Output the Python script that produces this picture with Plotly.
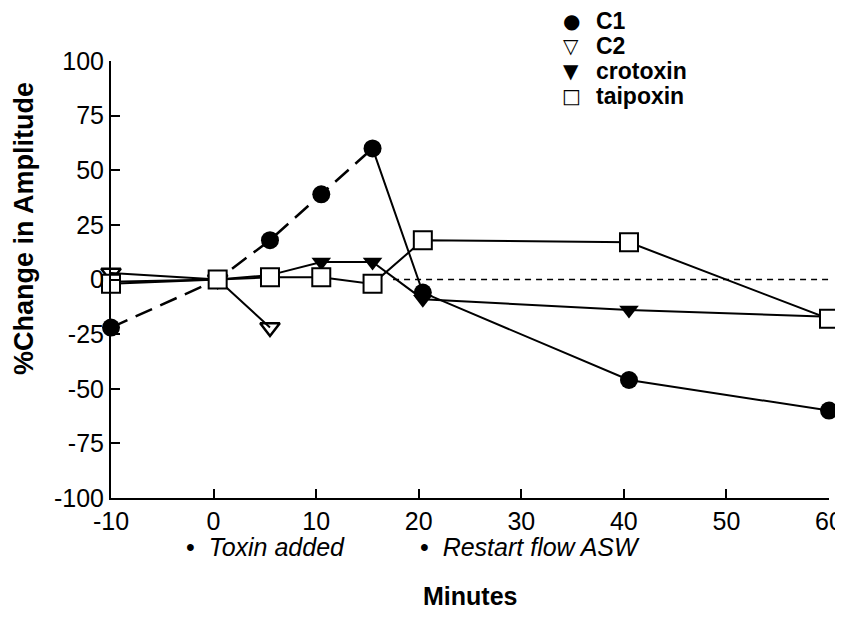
import plotly.graph_objects as go

# ---- data ----
t_c1 = [-10, 0.4, 5.5, 10.5, 15.5, 20.4, 40.5, 60]
c1 = [-22, 0, 18, 39, 60, -6, -46, -60]
split_c1 = 5  # dashed up to 15.5 min, solid afterwards

t_c2 = [-10, 0.4, 5.5]
c2 = [3, 0, -22]

t_cro = [-10, 0.4, 5.5, 10.5, 15.5, 20.4, 40.5, 60]
cro = [-1, 0, 2, 8, 8, -9, -14, -17]

t_tai = [-10, 0.4, 5.5, 10.5, 15.5, 20.4, 40.5, 60]
tai = [-2, 0, 1, 1, -2, 18, 17, -18]

ref_x = [17.5, 60]
ref_y = [0, 0]

x_ticks = [-10, 0, 10, 20, 30, 40, 50, 60]
y_ticks = [-100, -75, -50, -25, 0, 25, 50, 75, 100]

legend_names = ["C1", "C2", "crotoxin", "taipoxin"]
legend_syms = ["\u25CF", "\u25BD", "\u25BC", "\u25A1"]

FONT = "Liberation Sans, Arial, Helvetica, sans-serif"
BLACK = "#000000"

# plot area in screen pixels (page has an 8px body offset)
PX0, PX1, PY0, PY1 = 111, 829, 61, 498
OFF = 8
W, H = 843 - OFF, 612


def px(xs):
    return (xs - PX0) / (PX1 - PX0)


def py(ys):
    return (PY1 - ys) / (PY1 - PY0)


fig = go.Figure()

# reference dashed line at 0
fig.add_trace(go.Scatter(x=ref_x, y=ref_y, mode="lines", showlegend=False,
                         line=dict(color=BLACK, width=1.5, dash="6px,5px"),
                         hoverinfo="skip"))

# line segments
fig.add_trace(go.Scatter(x=t_c1[:split_c1], y=c1[:split_c1], mode="lines", showlegend=False,
                         line=dict(color=BLACK, width=2.5, dash="18px,9px")))
fig.add_trace(go.Scatter(x=t_c1[split_c1 - 1:], y=c1[split_c1 - 1:], mode="lines", showlegend=False,
                         line=dict(color=BLACK, width=2)))
fig.add_trace(go.Scatter(x=t_c2, y=c2, mode="lines", showlegend=False,
                         line=dict(color=BLACK, width=2)))
fig.add_trace(go.Scatter(x=t_cro, y=cro, mode="lines", showlegend=False,
                         line=dict(color=BLACK, width=2)))
fig.add_trace(go.Scatter(x=t_tai, y=tai, mode="lines", showlegend=False,
                         line=dict(color=BLACK, width=2)))

# markers
fig.add_trace(go.Scatter(x=t_c1, y=c1, mode="markers", name="C1", cliponaxis=False,
                         showlegend=False,
                         marker=dict(symbol="circle", size=18, color=BLACK)))
fig.add_trace(go.Scatter(x=t_c2, y=c2, mode="markers", name="C2", cliponaxis=False,
                         showlegend=False,
                         marker=dict(symbol="triangle-down-open", size=17, color=BLACK,
                                     line=dict(width=2.5))))
fig.add_trace(go.Scatter(x=t_cro, y=cro, mode="markers", name="crotoxin", cliponaxis=False,
                         showlegend=False,
                         marker=dict(symbol="triangle-down", size=17, color=BLACK)))
fig.add_trace(go.Scatter(x=t_tai, y=tai, mode="markers", name="taipoxin", cliponaxis=False,
                         showlegend=False,
                         marker=dict(symbol="square", size=18, color="white",
                                     line=dict(color=BLACK, width=2))))

annotations = [
    dict(text="\u2022  <i>Toxin added</i>", x=-2.9, y=py(547), xref="x", yref="paper",
         xanchor="left", yanchor="middle", showarrow=False, font=dict(size=25)),
    dict(text="\u2022  <i>Restart flow ASW</i>", x=19.9, y=py(547), xref="x", yref="paper",
         xanchor="left", yanchor="middle", showarrow=False, font=dict(size=25)),
    dict(text="<b>Minutes</b>", x=0.5, y=py(596), xref="paper", yref="paper",
         xanchor="center", yanchor="middle", showarrow=False, font=dict(size=25)),
    dict(text="<b>%Change in Amplitude</b>", x=px(24), y=py(229), xref="paper", yref="paper",
         xanchor="center", yanchor="middle", textangle=-90, showarrow=False,
         font=dict(size=27)),
]
# manual legend (text)
for i, (sym, name) in enumerate(zip(legend_syms, legend_names)):
    ypx = 21 + 25 * i
    annotations.append(dict(text=sym, x=px(571), y=py(ypx), xref="paper", yref="paper",
                            xanchor="center", yanchor="middle", showarrow=False,
                            font=dict(size=20, family="DejaVu Sans")))
    annotations.append(dict(text="<b>" + name + "</b>", x=px(594), y=py(ypx),
                            xref="paper", yref="paper", xanchor="left", yanchor="middle",
                            showarrow=False, font=dict(size=23)))

fig.update_layout(
    width=W, height=H,
    margin=dict(l=PX0 - OFF, r=W - (PX1 - OFF), t=PY0 - OFF, b=H - (PY1 - OFF),
                autoexpand=False),
    paper_bgcolor="white", plot_bgcolor="white",
    font=dict(family=FONT, color=BLACK, size=24),
    showlegend=False,
    xaxis=dict(range=[-10, 60], tickvals=x_ticks, ticktext=[str(v) for v in x_ticks],
               showgrid=False, zeroline=False, showline=True, linecolor=BLACK, linewidth=2,
               ticks="inside", ticklen=9, tickwidth=2, tickcolor=BLACK,
               tickfont=dict(size=25), automargin=False, ticklabeloverflow="allow"),
    yaxis=dict(range=[-100, 100], tickvals=y_ticks, ticktext=[str(v) for v in y_ticks],
               showgrid=False, zeroline=False, showline=True, linecolor=BLACK, linewidth=2,
               ticks="inside", ticklen=9, tickwidth=2, tickcolor=BLACK,
               tickfont=dict(size=25), automargin=False, ticklabeloverflow="allow"),
    annotations=annotations,
)

fig.write_html("out.html")
